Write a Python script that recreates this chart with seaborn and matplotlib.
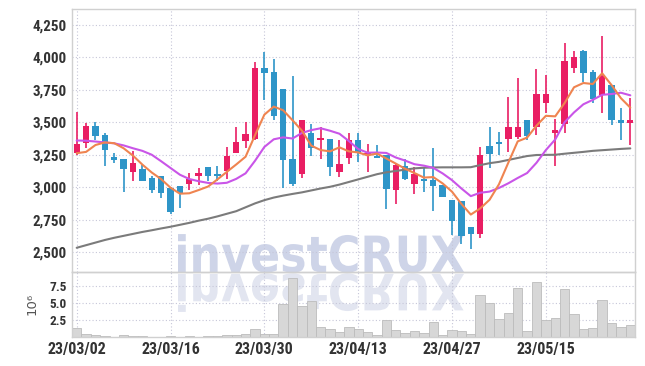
import numpy as np
import matplotlib
matplotlib.use("Agg")
import matplotlib.pyplot as plt
import seaborn as sns
from matplotlib.font_manager import FontProperties, fontManager
from matplotlib.textpath import TextPath
from matplotlib.patches import PathPatch
from matplotlib.transforms import Affine2D

# daily prices (KRW), trading days 23/03/02 .. 23/05/26
open_ = [3261, 3343, 3471, 3402, 3232, 3215, 3114, 3140, 3070, 3086,
         2996, 3009, 3022, 3088, 3155, 3093, 3127, 3266, 3358, 3369,
         3916, 3888, 3757, 3215, 3099, 3420, 3366, 3371, 3114, 3227,
         3363, 3253, 3232, 3248, 2980, 3163, 3022, 3060, 3055, 3017,
         2901, 2893, 2690, 2641, 3317, 3348, 3369, 3389, 3518, 3466,
         3651, 3415, 3489, 3921, 4050, 3888, 3710, 3787, 3518, 3497]
high = [3582, 3492, 3500, 3420, 3261, 3220, 3279, 3171, 3086, 3090,
        3000, 3012, 3107, 3145, 3158, 3163, 3312, 3461, 3505, 3967,
        4039, 3985, 3760, 3855, 3520, 3484, 3466, 3375, 3363, 3415,
        3415, 3330, 3325, 3250, 3175, 3217, 3153, 3158, 3299, 3020,
        2903, 2895, 2692, 3312, 3466, 3427, 3697, 3839, 3520, 3908,
        3865, 3523, 4109, 4050, 4057, 3903, 4165, 3790, 3608, 3685]
low = [3248, 3299, 3363, 3163, 3188, 2965, 3047, 3045, 2952, 2914,
       2793, 2839, 2978, 3019, 3050, 3050, 3060, 3262, 3299, 3365,
       3672, 3518, 2991, 3010, 3068, 3240, 3217, 3088, 3081, 3178,
       3196, 3119, 3222, 2832, 2868, 3058, 2947, 2965, 2818, 2924,
       2631, 2562, 2523, 2606, 3145, 3248, 3269, 3369, 3363, 3402,
       3574, 3163, 3415, 3878, 3813, 3646, 3569, 3479, 3363, 3325]
close = [3332, 3471, 3394, 3286, 3212, 3138, 3184, 3050, 2980, 2957,
         2811, 2952, 3063, 3109, 3088, 3088, 3240, 3348, 3410, 3916,
         3883, 3548, 3209, 3022, 3518, 3304, 3379, 3158, 3178, 3363,
         3261, 3266, 3225, 2988, 3171, 3060, 3099, 3050, 3011, 2926,
         2741, 2626, 2641, 3248, 3258, 3335, 3461, 3461, 3394, 3718,
         3718, 3441, 3972, 4003, 3882, 3677, 3857, 3518, 3497, 3518]

# moving averages as shown on the chart
ma5 = [3262, 3272, 3325, 3345, 3339, 3300, 3243, 3174, 3113, 3062,
       2996, 2950, 2953, 2978, 3005, 3060, 3118, 3175, 3235, 3400,
       3559, 3621, 3593, 3516, 3436, 3320, 3286, 3276, 3307, 3276,
       3268, 3245, 3259, 3221, 3182, 3142, 3109, 3074, 3078, 3029,
       2965, 2871, 2789, 2836, 2903, 3022, 3189, 3353, 3382, 3474,
       3550, 3546, 3649, 3770, 3803, 3795, 3878, 3787, 3686, 3613]
ma10 = [3360, 3358, 3352, 3345, 3338, 3322, 3300, 3280, 3250, 3200,
        3148, 3096, 3063, 3046, 3033, 3028, 3034, 3064, 3107, 3203,
        3310, 3369, 3384, 3375, 3418, 3440, 3454, 3435, 3412, 3356,
        3294, 3266, 3267, 3264, 3229, 3205, 3177, 3166, 3149, 3106,
        3054, 2990, 2931, 2957, 2966, 2994, 3030, 3071, 3109, 3188,
        3286, 3368, 3501, 3576, 3639, 3673, 3712, 3718, 3728, 3708]
ma60 = [2533, 2553, 2573, 2593, 2610, 2625, 2640, 2655, 2668, 2682,
        2695, 2710, 2725, 2742, 2757, 2775, 2795, 2815, 2845, 2875,
        2900, 2920, 2935, 2948, 2960, 2975, 2990, 3003, 3020, 3040,
        3060, 3080, 3100, 3115, 3125, 3135, 3145, 3150, 3152, 3153,
        3153, 3153, 3154, 3170, 3185, 3195, 3210, 3225, 3240, 3248,
        3249, 3250, 3258, 3265, 3272, 3280, 3285, 3290, 3295, 3299]

# volume, millions of shares
volume = [1.3, 0.45, 0.3, 0.15, 0.1, 0.3, 0.2, 0.2, 0.05, 0.05,
          0.2, 0.1, 0.2, 0.1, 0.2, 0.2, 0.3, 0.3, 0.45, 1.2,
          0.5, 0.5, 4.9, 8.65, 4.5, 5.3, 1.45, 1.2, 0.8, 1.5,
          1.2, 0.8, 0.35, 2.5, 1.05, 0.6, 0.9, 0.6, 2.2, 0.35,
          1.05, 0.9, 0.5, 6.15, 5.0, 2.65, 3.5, 7.15, 0.9, 8.0,
          2.5, 2.8, 7.0, 3.4, 1.2, 1.35, 5.4, 2.1, 1.5, 1.8]

tick_pos = [0, 10, 20, 30, 40, 50]
tick_labels = ["23/03/02", "23/03/16", "23/03/30", "23/04/13", "23/04/27", "23/05/15"]
price_ticks = [2500, 2750, 3000, 3250, 3500, 3750, 4000, 4250]
vol_ticks = [2.5, 5.0, 7.5]

UP = "#e91e63"
DOWN = "#2e95c8"
GRID = "#c6c6d8"
SPINE = "#d0d0d0"

# pick a narrow face if the system has one
names = {f.name for f in fontManager.ttflist}
narrow = [n for n in ("Liberation Sans Narrow", "DejaVu Sans Condensed", "Roboto Condensed") if n in names]
LABEL_FONT = narrow + ["Roboto", "DejaVu Sans"]

sns.set_theme(style="white")
plt.rcParams["font.family"] = LABEL_FONT
plt.rcParams["font.weight"] = "bold"
plt.rcParams["font.stretch"] = "condensed"

W, H = 645, 366
fig = plt.figure(figsize=(W / 100, H / 100), dpi=100, facecolor="white")
ax = fig.add_axes([72 / W, 1 - 272.3 / H, 563 / W, 263 / H])
axv = fig.add_axes([72 / W, 1 - 337.3 / H, 563 / W, 65 / H])
for a in (ax, axv):
    a.set_facecolor("none")

# watermark and its reflection
fp = FontProperties(family="DejaVu Sans", weight="bold")
tp = TextPath((0, 0), "investCRUX", size=52, prop=fp)
ext = tp.get_extents()
sx = 286 / ext.width
mark = PathPatch(tp, transform=Affine2D().translate(-ext.x0, 0).scale(sx, 0.96).translate(178, H - 272),
                 facecolor="#ced4e8", edgecolor="none", zorder=-2)
refl = PathPatch(tp, transform=Affine2D().translate(-ext.x0, 0).scale(sx, -0.96).translate(178, H - 274),
                 facecolor="#e2e5f0", edgecolor="none", zorder=-2)
fig.add_artist(mark)
fig.add_artist(refl)

idx = np.arange(len(close))
o = np.array(open_)
c = np.array(close)
colors = np.where(c >= o, UP, DOWN)
bottoms = np.minimum(o, c)
heights = np.maximum(np.abs(c - o), 12)

ax.vlines(idx, low, high, colors=colors, lw=1.2, zorder=3)
ax.bar(idx, heights, bottom=bottoms, width=0.68, color=colors, linewidth=0, zorder=4)

sns.lineplot(x=idx, y=ma60, ax=ax, color="#7b7b7b", lw=1.5, zorder=5)
sns.lineplot(x=idx, y=ma10, ax=ax, color="#c955e8", lw=1.5, zorder=5)
sns.lineplot(x=idx, y=ma5, ax=ax, color="#ef8450", lw=1.5, zorder=6)

sns.barplot(x=idx, y=volume, ax=axv, color="#d7d7d7", width=1.0,
            edgecolor="#bcbcbc", linewidth=0.6, saturation=1, zorder=2)

for a in (ax, axv):
    a.set_xlim(-0.5, 59.5)
    a.set_xticks(tick_pos)
    a.grid(True, color=GRID, linestyle=(0, (1, 2)), linewidth=0.8)
    a.set_axisbelow(True)
    for s in a.spines.values():
        s.set_color(SPINE)
        s.set_linewidth(1)
    a.set_xlabel("")
    a.set_ylabel("")

ax.set_ylim(2344, 4371)
ax.set_yticks(price_ticks)
ax.set_yticklabels([f"{v:,}" for v in price_ticks], fontweight="bold")
ax.tick_params(axis="x", length=0, labelbottom=False)
ax.tick_params(axis="y", length=0, pad=3.6, labelsize=10.8, labelcolor="#333333")

axv.set_ylim(0, 9.45)
axv.set_yticks(vol_ticks)
axv.set_yticklabels([f"{v:.1f}" for v in vol_ticks], fontweight="bold")
axv.set_xticklabels(tick_labels, fontweight="bold")
axv.tick_params(axis="x", length=0, pad=3.6, labelsize=11.5, labelcolor="#333333")
axv.tick_params(axis="y", length=0, pad=3.6, labelsize=9.5, labelcolor="#333333")

fig.text(32 / W, 1 - 304 / H, "10\u2076", rotation=90, ha="center", va="center",
         fontsize=9.5, color="#555555", family="DejaVu Sans", fontweight="normal",
         fontstretch="normal")

fig.savefig("out.png", dpi=100, facecolor="white")
